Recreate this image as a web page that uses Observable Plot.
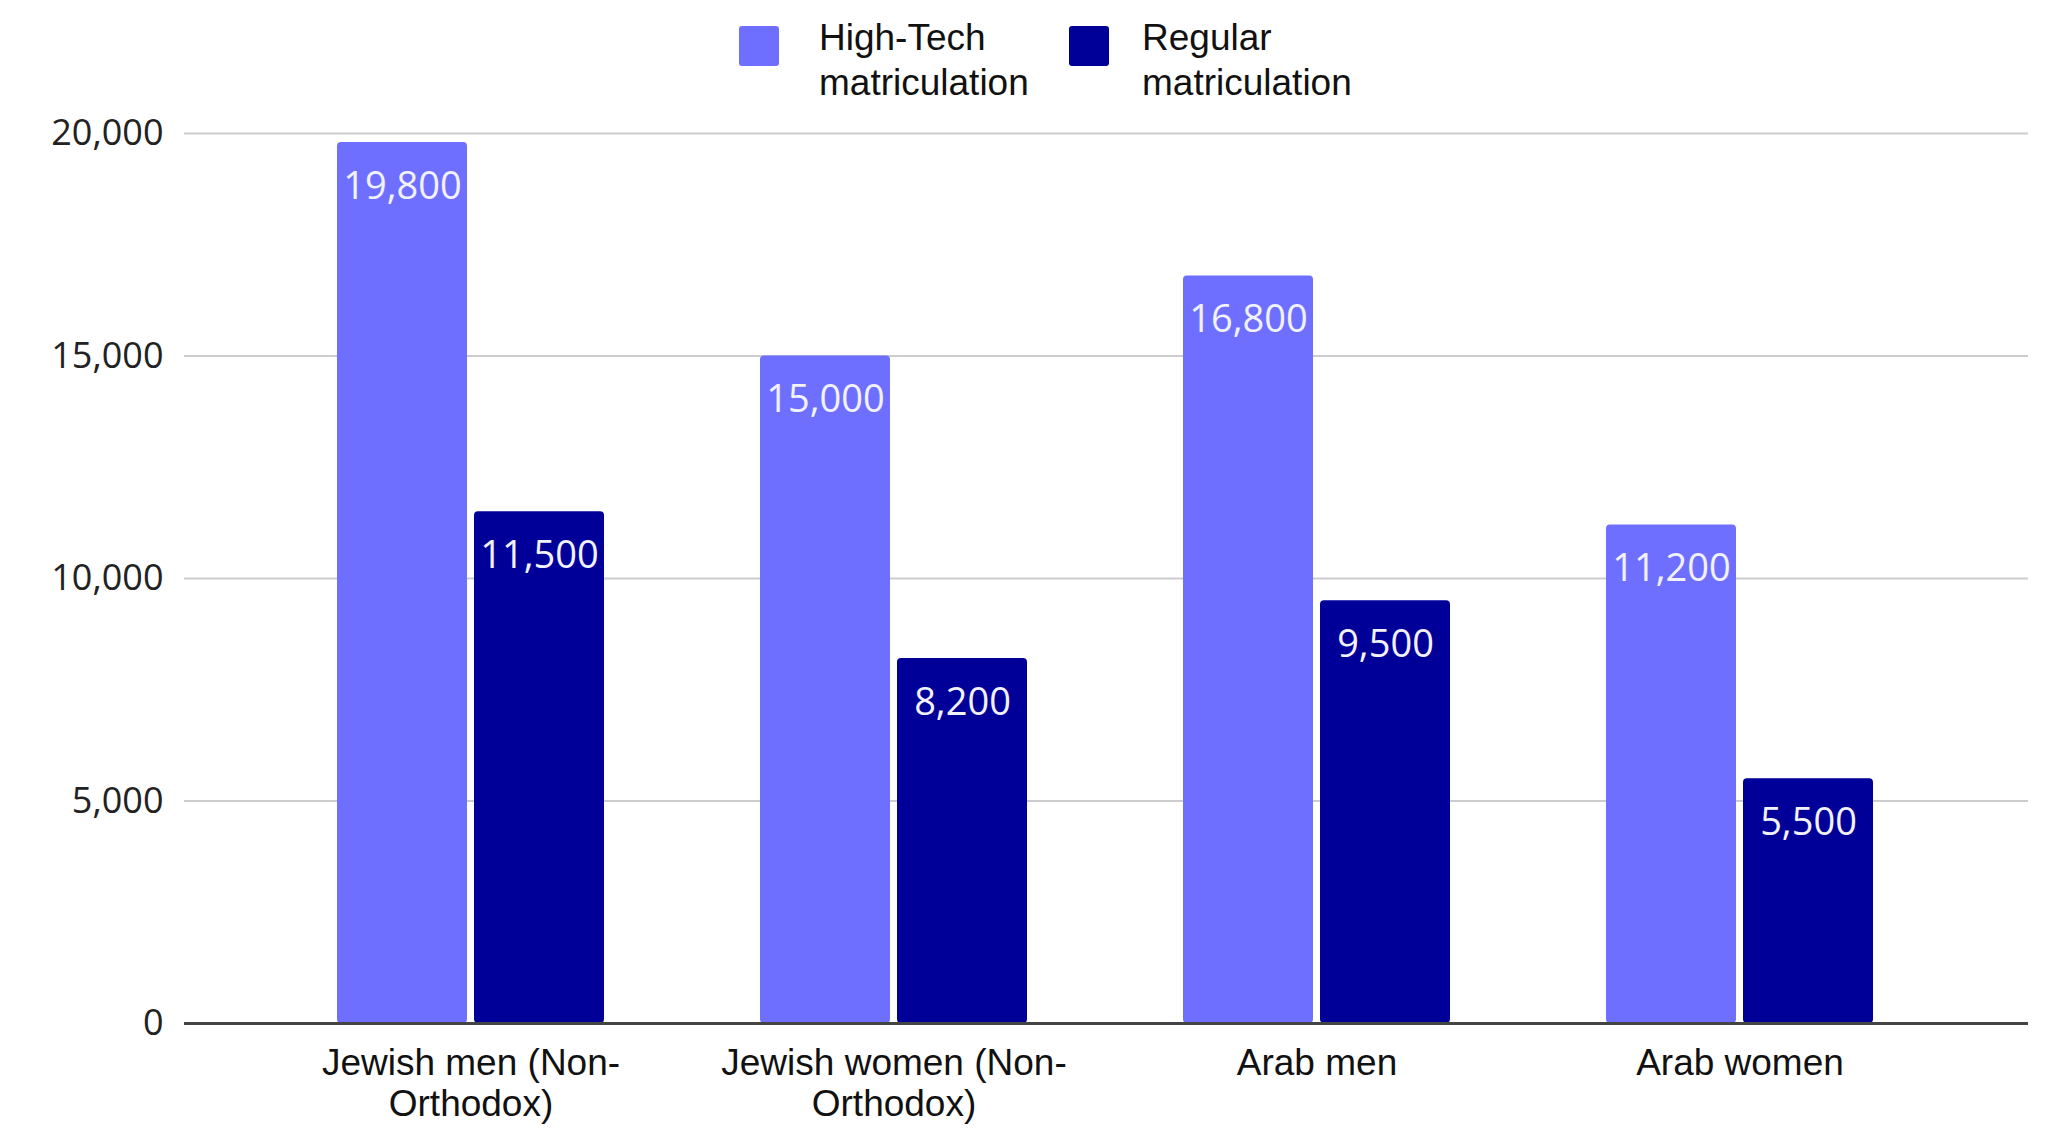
<!DOCTYPE html>
<html>
<head>
<meta charset="utf-8">
<script src="https://cdn.jsdelivr.net/npm/d3@7"></script>
<script src="https://cdn.jsdelivr.net/npm/@observablehq/plot@0.6"></script>
<style>
  body { margin: 0; background: #fff; }
  #wrap { width: 2049px; }
  #legend { position: relative; width: 2049px; height: 100px; font-family: "Liberation Sans", Arial, sans-serif; font-size: 37px; color: #111; }
  .sw { position: absolute; top: 26px; width: 40px; height: 40px; border-radius: 3px; }
  .lt { position: absolute; top: 15px; line-height: 45px; white-space: nowrap; }
</style>
</head>
<body>
<div id="wrap">
  <div id="legend"></div>
  <div id="chart"></div>
</div>
<script>
const groups = ["Jewish men (Non-\nOrthodox)", "Jewish women (Non-\nOrthodox)", "Arab men", "Arab women"];
const series = ["High-Tech matriculation", "Regular matriculation"];
const seriesLabels = ["High-Tech<br>matriculation", "Regular<br>matriculation"];
const highTech = [19800, 15000, 16800, 11200];
const regular = [11500, 8200, 9500, 5500];
const yTicks = [0, 5000, 10000, 15000, 20000];
const colors = ["#6f6fff", "#000099"];

const htData = groups.map((g, i) => ({group: g, value: highTech[i]}));
const regData = groups.map((g, i) => ({group: g, value: regular[i]}));

// legend
const legend = document.getElementById("legend");
const swLeft = [739, 1069];
const txtLeft = [819, 1142];
series.forEach((s, i) => {
  const sw = document.createElement("div");
  sw.className = "sw";
  sw.style.left = swLeft[i] + "px";
  sw.style.background = colors[i];
  legend.appendChild(sw);
  const t = document.createElement("div");
  t.className = "lt";
  t.style.left = txtLeft[i] + "px";
  t.innerHTML = seriesLabels[i];
  legend.appendChild(t);
});

const fmt = d3.format(",");
const chart = Plot.plot({
  width: 2049,
  height: 1029,
  marginLeft: 184,
  marginRight: 21,
  marginTop: 33,
  marginBottom: 106,
  style: {fontFamily: "'Open Sans', sans-serif", fontSize: "36px", color: "#222", background: "white"},
  x: {domain: groups, range: [258.5, 1951.5], paddingInner: 0.369, paddingOuter: 0.1845, label: null},
  y: {domain: [0, 20000], label: null},
  marks: [
    Plot.gridY(yTicks.filter(d => d > 0), {stroke: "#cccccc", strokeOpacity: 1, strokeWidth: 2}),
    Plot.axisY({ticks: yTicks, tickSize: 0, tickPadding: 21, tickFormat: fmt, fontSize: 36, label: null}),
    Plot.axisX({tickSize: 0, tickPadding: 22, fontSize: 37, fontFamily: "'Liberation Sans', Arial, sans-serif", lineHeight: 1.12, fill: "#111", label: null}),
    Plot.barY(htData, {x: "group", y: "value", fill: colors[0], insetRight: 137, rx: 4}),
    Plot.barY(regData, {x: "group", y: "value", fill: colors[1], insetLeft: 137, rx: 4}),
    Plot.text(htData, {x: "group", y: "value", text: d => fmt(d.value), dx: -68.5, dy: 44, fill: "#f2f2ff", fontSize: 38, fontFamily: "'Open Sans', sans-serif"}),
    Plot.text(regData, {x: "group", y: "value", text: d => fmt(d.value), dx: 68.5, dy: 44, fill: "#f2f2ff", fontSize: 38, fontFamily: "'Open Sans', sans-serif"}),
    Plot.ruleY([0], {stroke: "#444", strokeWidth: 3})
  ]
});
document.getElementById("chart").appendChild(chart);
</script>
</body>
</html>
